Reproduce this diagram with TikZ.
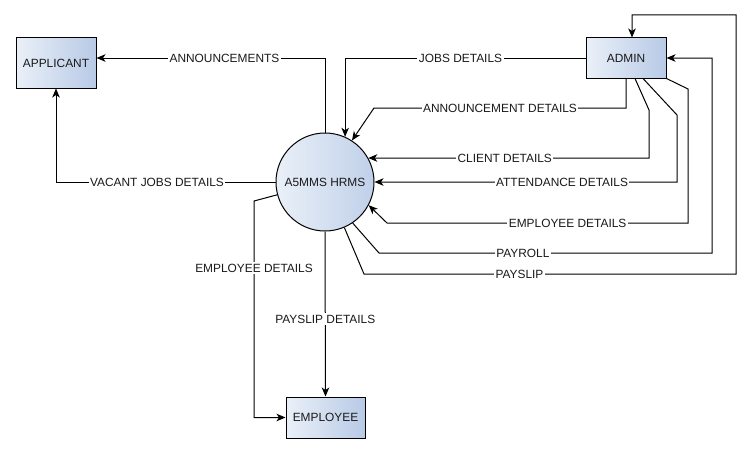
\documentclass[tikz,border=0pt]{standalone}
\usepackage{fontspec}
\setmainfont{Liberation Sans}
\usetikzlibrary{arrows.meta}

\definecolor{boxlight}{RGB}{234,240,248}
\definecolor{boxdark}{RGB}{184,202,230}
\definecolor{circdark}{RGB}{192,208,233}
\definecolor{inktext}{RGB}{26,26,26}

\tikzset{
    entity/.style={draw, left color=boxlight, right color=boxdark,
        minimum width=80pt, minimum height=40pt, inner sep=0pt},
    process/.style={draw, circle, shading angle=45, left color=boxlight,
        right color=circdark, minimum size=98pt, inner sep=0pt},
    flow/.style={-{Stealth[length=9pt,width=7.5pt,inset=2.5pt]}},
    lbl/.style={fill=white, inner sep=1.5pt},
}

\begin{document}
\begin{tikzpicture}[x=1pt,y=-1pt,line width=1pt,text=inktext,
        font=\fontsize{11.9}{13}\selectfont]
            \useasboundingbox (0,0) rectangle (751,452);

            \node[entity,minimum height=50pt] (applicant) at (56,63) {APPLICANT};
            \node[entity] (admin) at (626,58) {ADMIN};
            \node[entity,minimum width=79pt,minimum height=41pt] (employee) at (325.5,417.5) {EMPLOYEE};
            \node[process] (hrms) at (325,182) {A5MMS HRMS};

            % applicant side
            \draw[flow] (hrms.north) |- node[lbl,pos=0.72] {ANNOUNCEMENTS} ([yshift=5pt]applicant.east);
            \draw[flow] (hrms.west) -| node[lbl,pos=0.27] {VACANT JOBS DETAILS} (applicant.south);

            % admin to system
            \draw[flow] (admin.west) -| node[lbl,pos=0.26] {JOBS DETAILS} (hrms.66);
            \draw[flow] (admin.south) |- node[lbl,pos=0.75] {ANNOUNCEMENT DETAILS} (374,108) -- (hrms.57);
            \draw[flow] ([xshift=9pt]admin.south) -- (649,110) |- node[lbl,pos=0.757] {CLIENT DETAILS} (hrms.29);
            \draw[flow] ([xshift=17pt]admin.south) -- (677,115) |- node[lbl,pos=0.69] {ATTENDANCE DETAILS} (hrms.east);
            \draw[flow] (admin.south east) -- (688,89) |- node[lbl,pos=0.70] {EMPLOYEE DETAILS} (387,223) -- (hrms.-28);

            % system to admin
            \draw[flow] (hrms.-56) -- (379,253) -| node[lbl,pos=0.216] {PAYROLL} (712,58) -- (admin.east);
            \draw[flow] (hrms.-67) -- (364,274) -| node[lbl,pos=0.209] {PAYSLIP} (736,15) -| ([xshift=6pt]admin.north);

            % system to employee
            \draw[flow] (hrms.195) -- (254,201) |- node[lbl,pos=0.155] {EMPLOYEE DETAILS} (employee.west);
            \draw[flow] (hrms.south) -- node[lbl,pos=0.53] {PAYSLIP DETAILS} (employee.north);
\end{tikzpicture}
\end{document}
